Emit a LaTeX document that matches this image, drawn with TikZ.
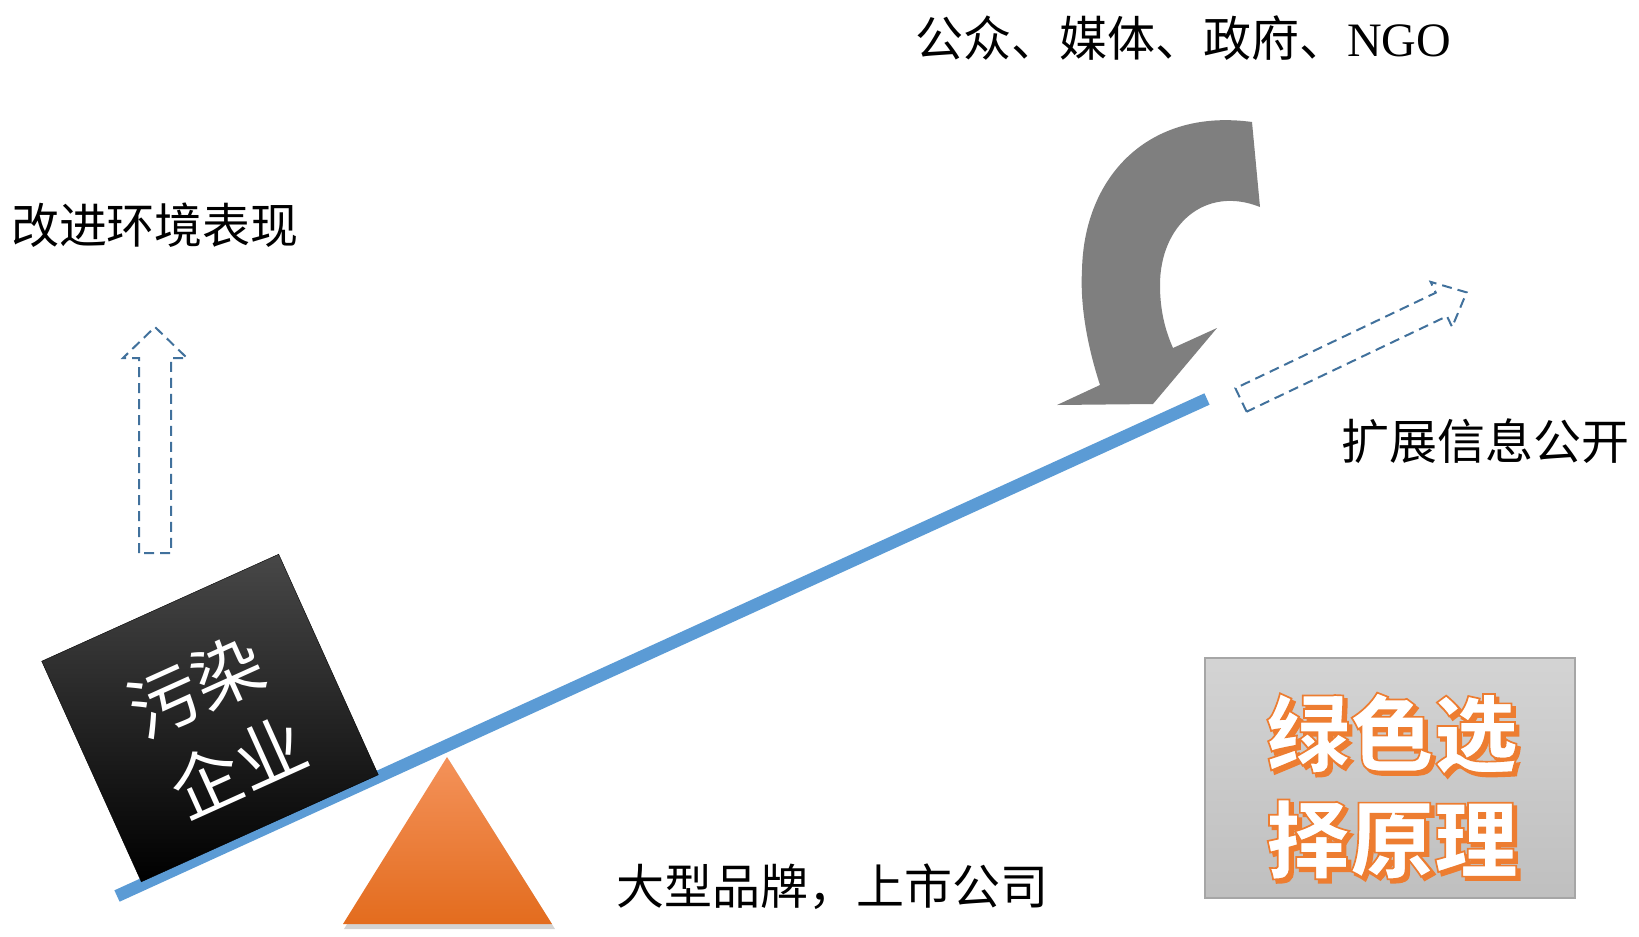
\documentclass[tikz,border=0pt]{standalone}
\usepackage{fontspec}
\setmainfont{Liberation Serif}
\newfontfamily\cjk{Noto Sans CJK SC}

\definecolor{beamblue}{HTML}{5B9BD5}
\definecolor{dashblue}{HTML}{41719C}
\definecolor{turngray}{HTML}{7F7F7F}
\definecolor{pivottop}{HTML}{F4925A}
\definecolor{pivotbot}{HTML}{E36C1E}
\definecolor{titleorange}{HTML}{ED7D31}

% orange outline of the title letters
\newcommand\orangeedge{\special{pdf:code 2 Tr 1.7 w 0.929 0.490 0.192 RG}}

\tikzset{
  bigtext/.style={font=\cjk\fontsize{48}{56}\selectfont, inner sep=0pt},
  firmtext/.style={font=\cjk\fontsize{70}{80}\selectfont, text=white, rotate=24.3, inner sep=0pt},
  titletext/.style={font=\cjk\bfseries\fontsize{84}{106}\selectfont, inner sep=0pt, align=center},
  dasharrow/.style={draw=dashblue, line width=2pt, dash pattern=on 10pt off 6pt},
}

\begin{document}
\begin{tikzpicture}[x=1pt,y=-1pt]
\useasboundingbox (0,0) rectangle (1639,937);

% lever
\coordinate (beamL) at (117,896);
\coordinate (beamR) at (1207,399);
\draw[beamblue, line width=12.5pt] (beamL) -- (beamR);

% fulcrum
\fill[black!50, opacity=0.35] (449,760) -- (555,929) -- (344,929) -- cycle;
\shade[top color=pivottop, bottom color=pivotbot] (447,757) -- (552,924) -- (343,924) -- cycle;

% polluting firm on the lever
\begin{scope}[shift={(210,718)}, rotate=24.3]
\shade[top color=black!72, middle color=black, bottom color=black, draw=black] (-130,-121) rectangle (130,121);
\end{scope}
\node[firmtext] (firm1) at (196,686) {污染};
\node[firmtext] (firm2) at (238,766) {企业};

% left dashed arrow
\draw[dasharrow] (139,553) -- (139,358) -- (123,358) -- (155,327) -- (187,358) -- (171,358) -- (171,553) -- cycle;

% right dashed arrow
\begin{scope}[shift={(1241,400)}, rotate=25.5]
\draw[dasharrow] (0,13) -- (0,-13) -- (222,-13) -- (222,-25) -- (250,0) -- (222,25) -- (222,13) -- cycle;
\end{scope}

% pressure arrow
\fill[turngray] (1252,122) -- (1260,207)
  .. controls (1205,185) and (1160,225) .. (1160,285)
  .. controls (1160,310) and (1165,330) .. (1173,348)
  -- (1217,328) -- (1153,404) -- (1057,405) -- (1100,385)
  .. controls (1087,345) and (1080,305) .. (1082,270)
  .. controls (1084,175) and (1150,108) .. (1252,122) -- cycle;

% texts
\node[bigtext] (public) at (1183,38) {公众、媒体、政府、\rmfamily NGO};
\node[bigtext] (improve) at (155,225) {改进环境表现};
\node[bigtext] (expand) at (1485,441) {扩展信息公开};
\node[bigtext] (brand) at (832,887) {大型品牌，上市公司};

% principle box
\shade[top color=black!17, bottom color=black!25, draw=black!35, line width=1.5pt] (1205,658) rectangle (1575,898);
\coordinate (title) at (1392,786);
\node[titletext, text=titleorange, xshift=3.5pt, yshift=-3.5pt] (shadow) at (title) {\orangeedge 绿色选\\\orangeedge 择原理};
\node[titletext, text=white] (principle) at (title) {\orangeedge 绿色选\\\orangeedge 择原理};
\end{tikzpicture}
\end{document}
